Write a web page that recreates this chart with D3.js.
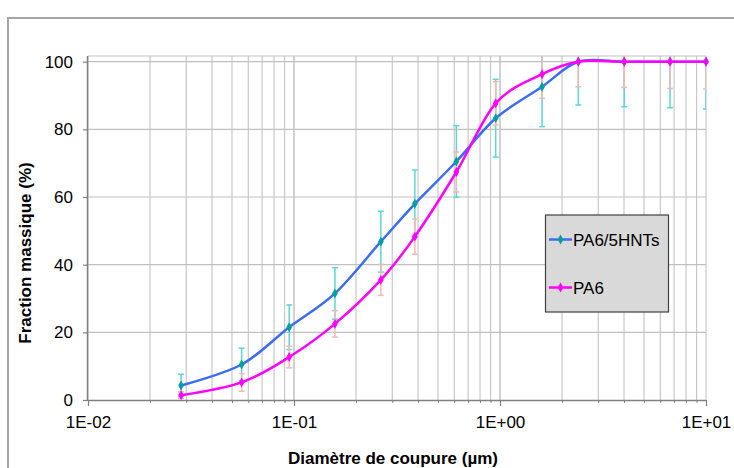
<!DOCTYPE html>
<html>
<head>
<meta charset="utf-8">
<script src="https://cdn.jsdelivr.net/npm/d3@7"></script>
<style>
  html, body { margin: 0; padding: 0; background: #fff; }
  svg { display: block; }
  text { font-family: "Liberation Sans", Arial, sans-serif; fill: #000; }
</style>
</head>
<body>
<svg id="chart" width="734" height="468"></svg>
<script>
// ---- data ----
const sizes = [0.0283, 0.0557, 0.0948, 0.158, 0.264, 0.386, 0.614, 0.953, 1.60, 2.40, 4.01, 6.69, 10.0];
const hntValues = [4.3, 10.5, 21.5, 31.5, 46.8, 58.0, 70.5, 83.3, 92.6, 100, 100, 100, 100];
const hntErrors = [3.3, 4.8, 6.6, 7.6, 9.0, 10.0, 10.6, 11.5, 11.8, 12.8, 13.3, 13.6, 14.0];
const pa6Values = [1.4, 5.2, 12.7, 22.5, 35.5, 48.3, 67.4, 87.7, 96.3, 100, 100, 100, 100];
const pa6Errors = [1.0, 2.6, 3.2, 3.9, 4.6, 5.2, 5.9, 6.4, 7.1, 7.4, 7.6, 7.9, 8.1];
const seriesNames = ["PA6/5HNTs", "PA6"];
const yTicks = [0, 20, 40, 60, 80, 100];
const xTickValues = [0.01, 0.1, 1, 10];
const xTickLabels = ["1E-02", "1E-01", "1E+00", "1E+01"];
const xTitle = "Diamètre de coupure (µm)";
const yTitle = "Fraction massique (%)";

// ---- layout ----
const svg = d3.select("#chart");
const pL = 88, pR = 706, pB = 400, pT = 56, y100 = 61.7;

const x = d3.scaleLog().domain([0.01, 10]).range([pL, pR]);
const y = d3.scaleLinear().domain([0, 100]).range([pB, y100]);

// outer chart frame
svg.append("rect").attr("x", 8).attr("y", 18).attr("width", 800).attr("height", 500)
  .attr("fill", "#fff").attr("stroke", "#a6a6a6").attr("stroke-width", 2);

// clip for plot area
svg.append("clipPath").attr("id", "plotClip")
  .append("rect").attr("x", pL).attr("y", pT).attr("width", pR - pL).attr("height", pB - pT);

// gridlines: vertical (major + minor)
const minorVals = [];
for (let d = 0.01; d < 10; d *= 10) {
  for (let k = 1; k <= 10; k++) minorVals.push(+(d * k).toPrecision(3));
}
const gridG = svg.append("g");
gridG.selectAll("line.v").data(minorVals).join("line")
  .attr("x1", d => x(d)).attr("x2", d => x(d))
  .attr("y1", pT).attr("y2", pB)
  .attr("stroke", "#c8c8c8").attr("stroke-width", 1.2);
// horizontal gridlines
gridG.selectAll("line.h").data(yTicks.slice(1)).join("line")
  .attr("x1", pL).attr("x2", pR)
  .attr("y1", d => y(d)).attr("y2", d => y(d))
  .attr("stroke", "#c0c0c0").attr("stroke-width", 1.2);
// plot area top border
gridG.append("line").attr("x1", pL).attr("x2", pR).attr("y1", pT).attr("y2", pT)
  .attr("stroke", "#c0c0c0").attr("stroke-width", 1.2);

// axes
const yAxis = d3.axisLeft(y).tickValues(yTicks).tickSize(5).tickPadding(10).tickFormat(d3.format("d"));
const yG = svg.append("g").attr("transform", `translate(${pL},0)`).call(yAxis);
yG.select(".domain").attr("d", `M-0.5,${pT}V${pB}`).attr("stroke", "#808080").attr("stroke-width", 1.5);
yG.selectAll(".tick line").attr("stroke", "#808080").attr("stroke-width", 1.2);
yG.selectAll(".tick text").attr("font-size", 17).attr("font-family", "Liberation Sans, Arial, sans-serif");

const xAxisMinor = d3.axisBottom(x).tickValues(minorVals).tickSize(3).tickFormat("");
const xmG = svg.append("g").attr("transform", `translate(0,${pB})`).call(xAxisMinor);
xmG.select(".domain").remove();
xmG.selectAll(".tick line").attr("stroke", "#808080");

const xAxis = d3.axisBottom(x).tickValues(xTickValues).tickSize(6).tickPadding(10)
  .tickFormat((d, i) => xTickLabels[i]);
const xG = svg.append("g").attr("transform", `translate(0,${pB})`).call(xAxis);
xG.select(".domain").attr("d", `M${pL},0.5H${pR}`).attr("stroke", "#808080").attr("stroke-width", 1.5);
xG.selectAll(".tick line").attr("stroke", "#808080").attr("stroke-width", 1.2);
xG.selectAll(".tick text").attr("font-size", 17).attr("font-family", "Liberation Sans, Arial, sans-serif");

// axis titles
svg.append("text").attr("x", 393).attr("y", 464).attr("text-anchor", "middle")
  .attr("font-size", 17).attr("font-weight", "bold").text(xTitle);
svg.append("text").attr("transform", "translate(31,253) rotate(-90)").attr("text-anchor", "middle")
  .attr("font-size", 17).attr("font-weight", "bold").text(yTitle);

// series
const series = [
  { name: seriesNames[0], values: hntValues, errors: hntErrors, line: "#3a6cf4", marker: "#00a0a0", err: "#5cd6d6" },
  { name: seriesNames[1], values: pa6Values, errors: pa6Errors, line: "#ff00ff", marker: "#ff00ff", err: "#f2b8b8" }
];

const plotG = svg.append("g").attr("clip-path", "url(#plotClip)");

// error bars
series.forEach(s => {
  const g = plotG.append("g");
  const pts = sizes.map((d, i) => ({ x: d, v: s.values[i], e: s.errors[i] }));
  g.selectAll("line.eb").data(pts).join("line")
    .attr("x1", d => x(d.x)).attr("x2", d => x(d.x))
    .attr("y1", d => y(d.v - d.e)).attr("y2", d => y(d.v + d.e))
    .attr("stroke", s.err).attr("stroke-width", 1.5);
  ["lo", "hi"].forEach(k => {
    g.selectAll("line.cap" + k).data(pts).join("line")
      .attr("x1", d => x(d.x) - 3).attr("x2", d => x(d.x) + 3)
      .attr("y1", d => y(k === "lo" ? d.v - d.e : d.v + d.e))
      .attr("y2", d => y(k === "lo" ? d.v - d.e : d.v + d.e))
      .attr("stroke", s.err).attr("stroke-width", 1.5);
  });
});

// lines
const lineGen = d3.line().x(d => x(d.x)).y(d => y(d.v)).curve(d3.curveCardinal.tension(0));
series.forEach(s => {
  const pts = sizes.map((d, i) => ({ x: d, v: s.values[i] }));
  plotG.append("path").datum(pts).attr("d", lineGen)
    .attr("fill", "none").attr("stroke", s.line).attr("stroke-width", 2.5);
});
// markers
const sym = d3.symbol().type(d3.symbolDiamond).size(28);
series.forEach(s => {
  const pts = sizes.map((d, i) => ({ x: d, v: s.values[i] }));
  svg.append("g").selectAll("path").data(pts).join("path")
    .attr("d", sym).attr("transform", d => `translate(${x(d.x)},${y(d.v)})`)
    .attr("fill", s.marker);
});

// legend
const lg = svg.append("g");
lg.append("rect").attr("x", 545.5).attr("y", 215).attr("width", 123).attr("height", 97)
  .attr("fill", "#d9d9d9").attr("stroke", "#404040").attr("stroke-width", 1.2);
series.forEach((s, i) => {
  const yy = 239.5 + i * 48;
  lg.append("line").attr("x1", 549).attr("x2", 572).attr("y1", yy).attr("y2", yy)
    .attr("stroke", s.line).attr("stroke-width", 2.5);
  lg.append("path").attr("d", sym).attr("transform", `translate(560.5,${yy})`).attr("fill", s.marker);
  lg.append("text").attr("x", 573).attr("y", yy + 6).attr("font-size", 17).text(s.name);
});
</script>
</body>
</html>
